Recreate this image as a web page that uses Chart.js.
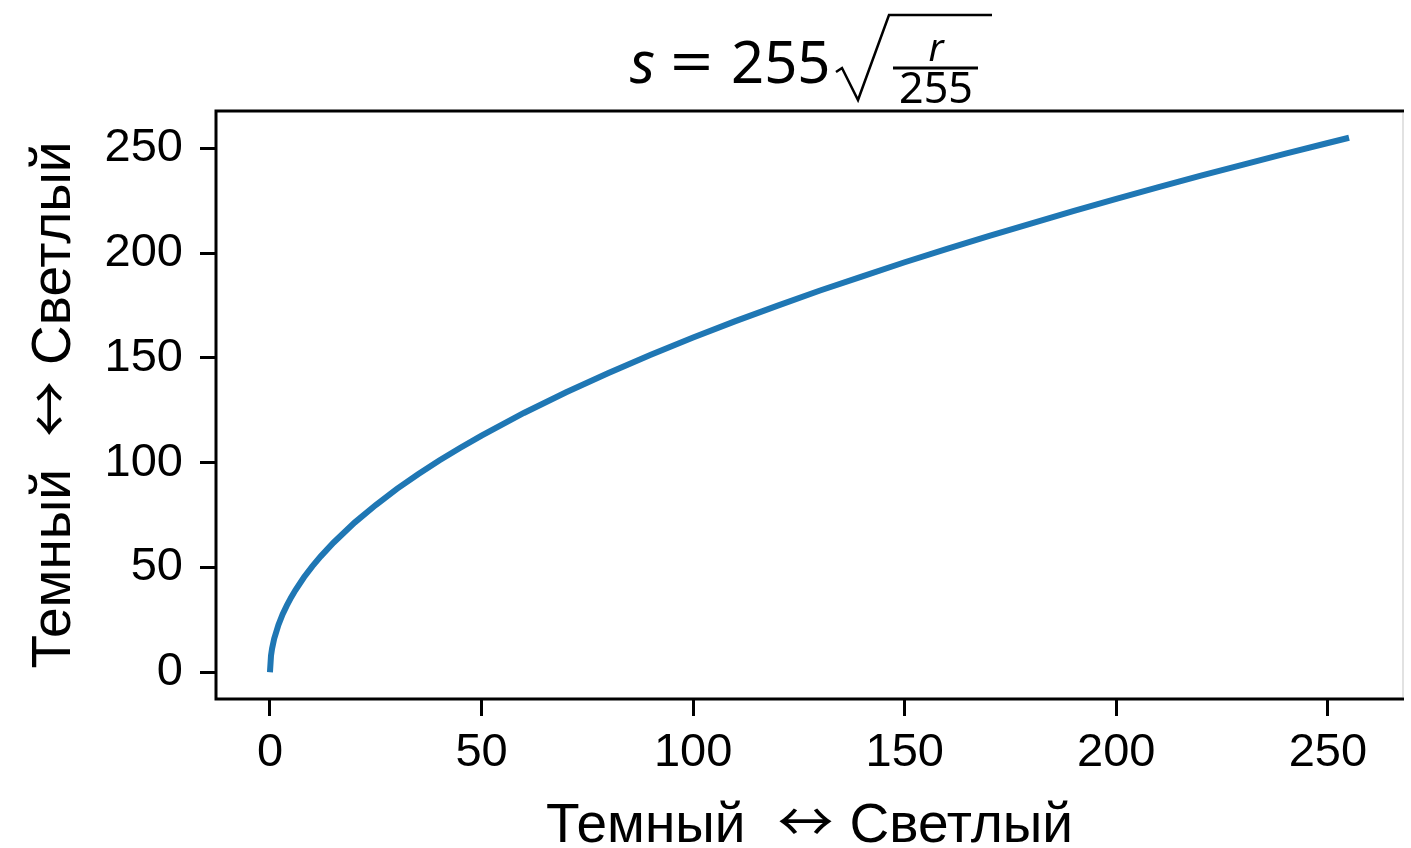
<!DOCTYPE html>
<html>
<head>
<meta charset="utf-8">
<script src="https://cdn.jsdelivr.net/npm/chart.js@4"></script>
<style>
  html, body { margin: 0; padding: 0; background: #fff; }
  #wrap { width: 1411px; height: 848px; }
</style>
</head>
<body>
<div id="wrap"><canvas id="curve" width="1411" height="848"></canvas></div>
<script>
// input brightness r and output brightness s
const inputLevels = [0, 0.25, 0.5, 1, 2, 3, 4, 5, 6, 8, 10, 12, 15, 20, 25, 30, 35, 40, 45, 50,
  60, 70, 80, 90, 100, 110, 120, 130, 140, 150, 160, 170, 180, 190, 200, 210, 220, 230, 240, 250, 255]
const outputLevels = [0, 8.0, 11.3, 16.0, 22.6, 27.7, 31.9, 35.7, 39.1, 45.2, 50.5, 55.3, 61.8, 71.4, 79.8, 87.5, 94.5, 101.0, 107.1, 112.9,
  123.7, 133.6, 142.8, 151.5, 159.7, 167.5, 174.9, 182.1, 188.9, 195.6, 202.0, 208.2, 214.2, 220.1, 225.8, 231.4, 236.9, 242.2, 247.4, 252.5, 255.0]
const tickValues = [0, 50, 100, 150, 200, 250]
const labelLeft = 'Темный'
const labelArrow = '↔'
const labelRight = 'Светлый'

const points = inputLevels.map((r, i) => ({ x: r, y: outputLevels[i] }))

const fixTicks = (scale) => { scale.ticks = tickValues.map(v => ({ value: v })) }

const LABEL_FONT = '55px "Liberation Sans", Arial, sans-serif'
const ARROW_FONT = '54px "Noto Sans CJK SC"'

// "Темный ↔ Светлый" centred on cx, baseline at 0 in the current transform
function drawAxisLabel(ctx, cx) {
  ctx.font = LABEL_FONT
  const w1 = ctx.measureText(labelLeft).width
  const w2 = ctx.measureText(labelRight).width
  ctx.font = ARROW_FONT
  const wa = ctx.measureText(labelArrow).width
  const arrowW = 56
  const gapL = 32, gapR = 16
  const total = w1 + gapL + arrowW + gapR + w2
  let x = cx - total / 2
  ctx.textAlign = 'left'
  ctx.textBaseline = 'alphabetic'
  ctx.font = LABEL_FONT
  ctx.fillText(labelLeft, x, 0)
  x += w1 + gapL
  ctx.save()
  ctx.translate(x, 0)
  ctx.scale(arrowW / wa, 1)
  ctx.font = ARROW_FONT
  ctx.fillText(labelArrow, 0, 0)
  ctx.restore()
  x += arrowW + gapR
  ctx.font = LABEL_FONT
  ctx.fillText(labelRight, x, 0)
}

const axisLabels = {
  id: 'axisLabels',
  afterDraw(chart) {
    const { ctx, chartArea: a } = chart
    ctx.save()
    ctx.fillStyle = '#000'
    ctx.translate(0, 842)
    drawAxisLabel(ctx, (a.left + a.right) / 2)
    ctx.restore()
    ctx.save()
    ctx.fillStyle = '#000'
    ctx.translate(70, 0)
    ctx.rotate(-Math.PI / 2)
    drawAxisLabel(ctx, -(a.top + a.bottom) / 2)
    ctx.restore()
  }
}

// spines: black on three sides, pale on the right
const frame = {
  id: 'frame',
  afterDatasetsDraw(chart) {
    const { ctx, chartArea: a } = chart
    ctx.save()
    ctx.strokeStyle = '#000'
    ctx.lineWidth = 3
    ctx.beginPath()
    ctx.moveTo(a.right + 1, a.top)
    ctx.lineTo(a.left, a.top)
    ctx.lineTo(a.left, a.bottom)
    ctx.lineTo(a.right + 1, a.bottom)
    ctx.stroke()
    ctx.strokeStyle = '#e2e2e2'
    ctx.lineWidth = 2
    ctx.beginPath()
    ctx.moveTo(a.right, a.top + 2)
    ctx.lineTo(a.right, a.bottom - 2)
    ctx.stroke()
    ctx.restore()
  }
}

// title: s = 255 * sqrt(r / 255)
const formula = {
  id: 'formula',
  afterDraw(chart) {
    const { ctx } = chart
    ctx.save()
    ctx.fillStyle = '#000'
    ctx.strokeStyle = '#000'
    ctx.textBaseline = 'alphabetic'
    ctx.textAlign = 'left'
    const base = 83
    ctx.font = 'italic 58px "Noto Sans"'
    ctx.fillText('s', 630, base)
    ctx.save()
    ctx.translate(670, base)
    ctx.scale(1.3, 1)
    ctx.font = '58px "Noto Sans"'
    ctx.fillText('=', 0, 0)
    ctx.restore()
    ctx.font = '58px "Noto Sans"'
    ctx.fillText('255', 731, base)
    // radical
    ctx.lineJoin = 'miter'
    ctx.lineWidth = 2.5
    ctx.beginPath()
    ctx.moveTo(836, 72)
    ctx.lineTo(842, 68)
    ctx.lineTo(858, 100)
    ctx.lineTo(889, 15)
    ctx.lineTo(992, 15)
    ctx.stroke()
    // fraction
    ctx.lineWidth = 3
    ctx.beginPath()
    ctx.moveTo(893, 68)
    ctx.lineTo(978, 68)
    ctx.stroke()
    ctx.textAlign = 'center'
    ctx.font = 'italic 38px "Noto Sans"'
    ctx.fillText('r', 936, 61)
    ctx.font = '43px "Noto Sans"'
    ctx.fillText('255', 936, 103)
    ctx.restore()
  }
}

const tickFont = { family: '"Liberation Sans", Arial, sans-serif', size: 47 }

new Chart(document.getElementById('curve'), {
  type: 'scatter',
  data: {
    datasets: [{
      data: points,
      showLine: true,
      borderColor: '#1f77b4',
      borderWidth: 6,
      pointRadius: 0,
      tension: 0
    }]
  },
  options: {
    responsive: false,
    animation: false,
    events: [],
    layout: { padding: { top: 111, right: 8, bottom: 0, left: 0 } },
    plugins: { legend: { display: false }, tooltip: { enabled: false } },
    scales: {
      x: {
        type: 'linear',
        min: -12.75,
        max: 267.75,
        afterBuildTicks: fixTicks,
        afterFit(scale) { scale.height = 149 },
        grid: { drawOnChartArea: false, tickLength: 17, lineWidth: 3, color: '#000' },
        border: { display: false },
        ticks: { color: '#000', font: tickFont, padding: 9, maxRotation: 0 },
        title: { display: false }
      },
      y: {
        type: 'linear',
        min: -12.75,
        max: 267.75,
        afterBuildTicks: fixTicks,
        afterFit(scale) { scale.width = 216 },
        grid: { drawOnChartArea: false, tickLength: 16, lineWidth: 3, color: '#000' },
        border: { display: false },
        ticks: { color: '#000', font: tickFont, padding: 17 },
        title: { display: false }
      }
    }
  },
  plugins: [frame, formula, axisLabels]
})
</script>
</body>
</html>
